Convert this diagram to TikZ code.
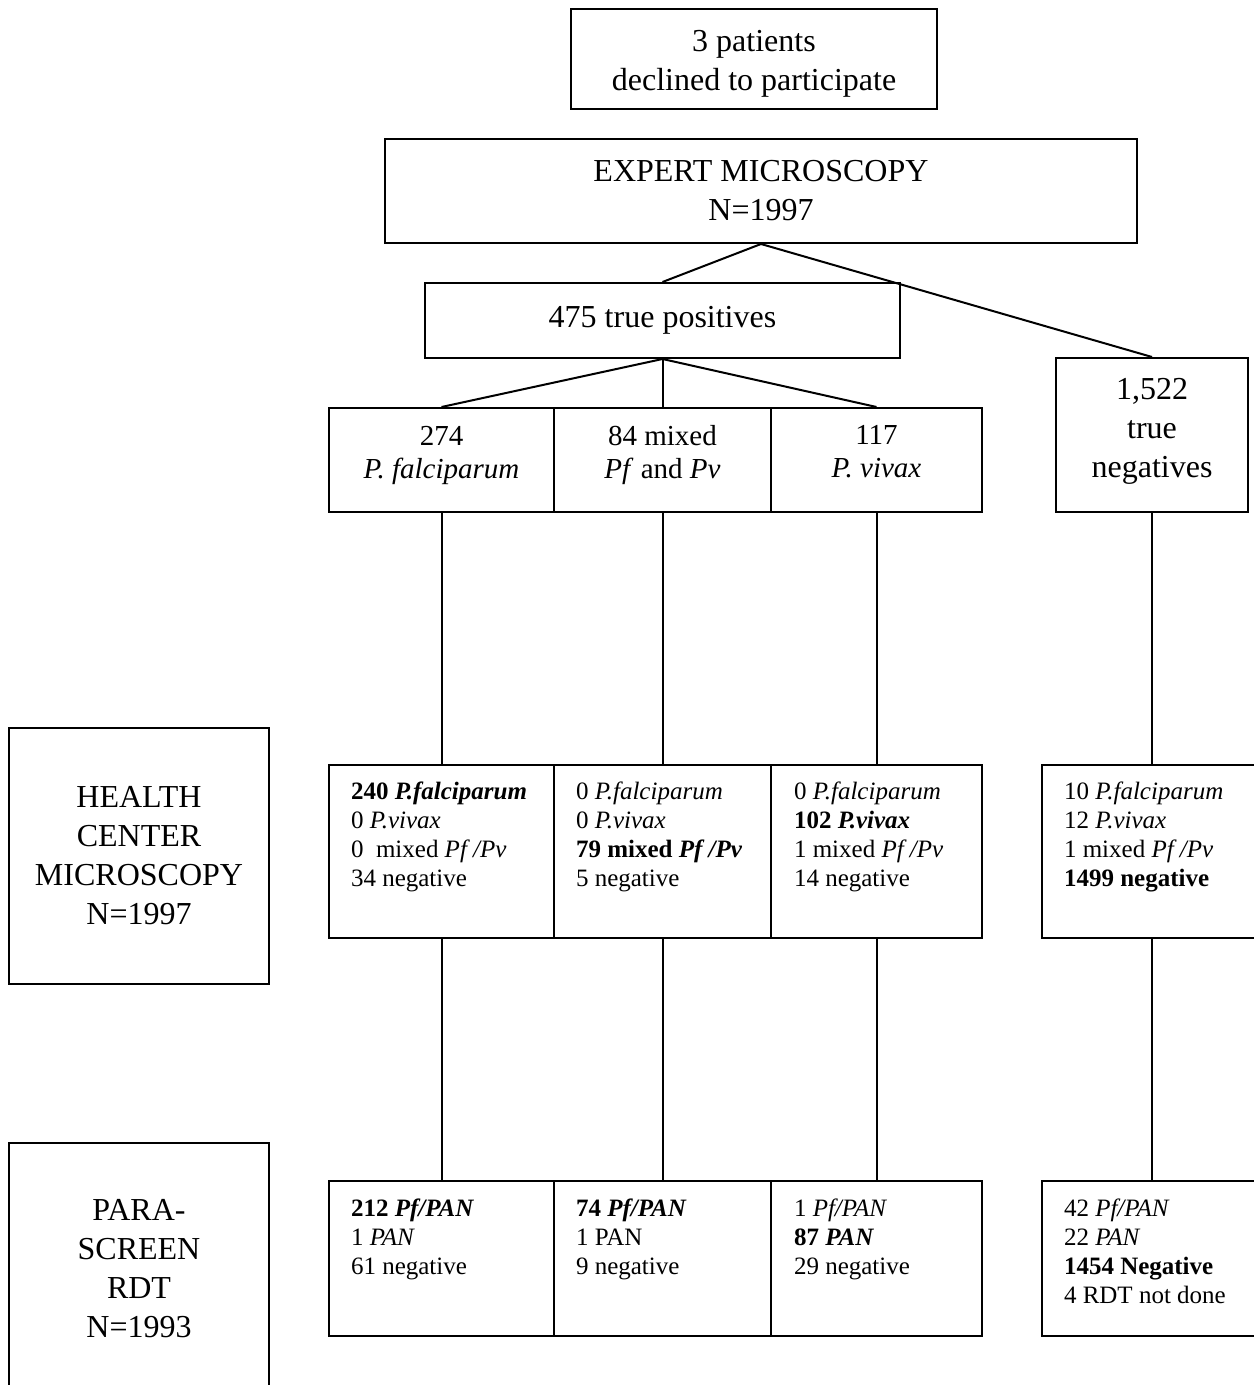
\documentclass[tikz,border=0pt]{standalone}
\usepackage{fontspec}
\setmainfont{Liberation Serif}
\begin{document}
\begin{tikzpicture}[x=0.5pt,y=-0.5pt, line width=1pt,
  bx/.style={draw, rectangle, inner sep=0pt, line width=1pt},
  big/.style={font=\fontsize{16}{19.5}\selectfont, align=center},
  mid/.style={font=\fontsize{14.5}{16.5}\selectfont, align=center, inner sep=0pt},
  sm/.style={font=\fontsize{12.5}{14.5}\selectfont, align=left, anchor=north west, inner sep=0pt}]
\useasboundingbox (0,0) rectangle (1253,1385);
% top part
\node[bx, minimum width=183pt, minimum height=50pt] (decl) at (754,59) {};
\node[big, inner sep=0pt] (declt) at (754,64) {3 patients\\declined to participate};
\node[bx, minimum width=376pt, minimum height=52pt, big] (exp) at (761,191) {EXPERT MICROSCOPY\\N=1997};
\node[bx, minimum width=237.5pt, minimum height=37.5pt, big] (tp) at (662.5,320.5) {475 true positives};
\node[bx, minimum width=96pt, minimum height=77pt] (tn) at (1152,435) {};
\node[big, inner sep=0pt] (tnt) at (1152,431) {1,522\\true\\negatives};
% species boxes
\node[bx, minimum width=112.5pt, minimum height=52pt] (pf) at (441.5,460) {};
\node[bx, minimum width=108.5pt, minimum height=52pt] (mx) at (662.5,460) {};
\node[bx, minimum width=105.5pt, minimum height=52pt] (pv) at (876.5,460) {};
\node[mid] (pft) at (441.5,455) {274\\\textit{P. falciparum}};
\node[mid] (mxt) at (662.5,455) {84 mixed\\\textit{Pf} and \textit{Pv}};
\node[mid] (pvt) at (876.5,452) {117\\\textit{P. vivax}};
% health center row
\node[bx, minimum width=130pt, minimum height=128pt, big] (hcl) at (139,856) {HEALTH\\CENTER\\MICROSCOPY\\N=1997};
\node[bx, minimum width=112.5pt, minimum height=86.5pt] (hc1) at (441.5,851.5) {};
\node[bx, minimum width=108.5pt, minimum height=86.5pt] (hc2) at (662.5,851.5) {};
\node[bx, minimum width=105.5pt, minimum height=86.5pt] (hc3) at (876.5,851.5) {};
\node[bx, minimum width=110pt, minimum height=86.5pt] (hc4) at (1152,851.5) {};
\node[sm] (hc1t) at (350,781) {\textbf{240 \textit{P.falciparum}}\\0 \textit{P.vivax}\\0\ \ mixed \textit{Pf /Pv}\\34 negative};
\node[sm] (hc2t) at (575,781) {0 \textit{P.falciparum}\\0 \textit{P.vivax}\\\textbf{79 mixed \textit{Pf /Pv}}\\5 negative};
\node[sm] (hc3t) at (793,781) {0 \textit{P.falciparum}\\\textbf{102 \textit{P.vivax}}\\1 mixed \textit{Pf /Pv}\\14 negative};
\node[sm] (hc4t) at (1063,781) {10 \textit{P.falciparum}\\12 \textit{P.vivax}\\1 mixed \textit{Pf /Pv}\\\textbf{1499 negative}};
% RDT row
\node[bx, minimum width=130pt, minimum height=126pt, big] (prl) at (139,1269) {PARA-\\SCREEN\\RDT\\N=1993};
\node[bx, minimum width=112.5pt, minimum height=77.5pt] (pr1) at (441.5,1258.5) {};
\node[bx, minimum width=108.5pt, minimum height=77.5pt] (pr2) at (662.5,1258.5) {};
\node[bx, minimum width=105.5pt, minimum height=77.5pt] (pr3) at (876.5,1258.5) {};
\node[bx, minimum width=110pt, minimum height=77.5pt] (pr4) at (1152,1258.5) {};
\node[sm] (pr1t) at (350,1198) {\textbf{212 \textit{Pf/PAN}}\\1 \textit{PAN}\\61 negative};
\node[sm] (pr2t) at (575,1198) {\textbf{74 \textit{Pf/PAN}}\\1 PAN\\9 negative};
\node[sm] (pr3t) at (793,1198) {1 \textit{Pf/PAN}\\\textbf{87 \textit{PAN}}\\29 negative};
\node[sm] (pr4t) at (1063,1198) {42 \textit{Pf/PAN}\\22 \textit{PAN}\\\textbf{1454 Negative}\\4 RDT not done};
% connectors
\draw (exp.south) -- (tp.north);
\draw (exp.south) -- (tn.north);
\draw (tp.south) -- (pf.north);
\draw (tp.south) -- (mx.north);
\draw (tp.south) -- (pv.north);
\draw (pf.south) -- (hc1.north);
\draw (mx.south) -- (hc2.north);
\draw (pv.south) -- (hc3.north);
\draw (tn.south) -- (hc4.north);
\draw (hc1.south) -- (pr1.north);
\draw (hc2.south) -- (pr2.north);
\draw (hc3.south) -- (pr3.north);
\draw (hc4.south) -- (pr4.north);
\end{tikzpicture}
\end{document}
